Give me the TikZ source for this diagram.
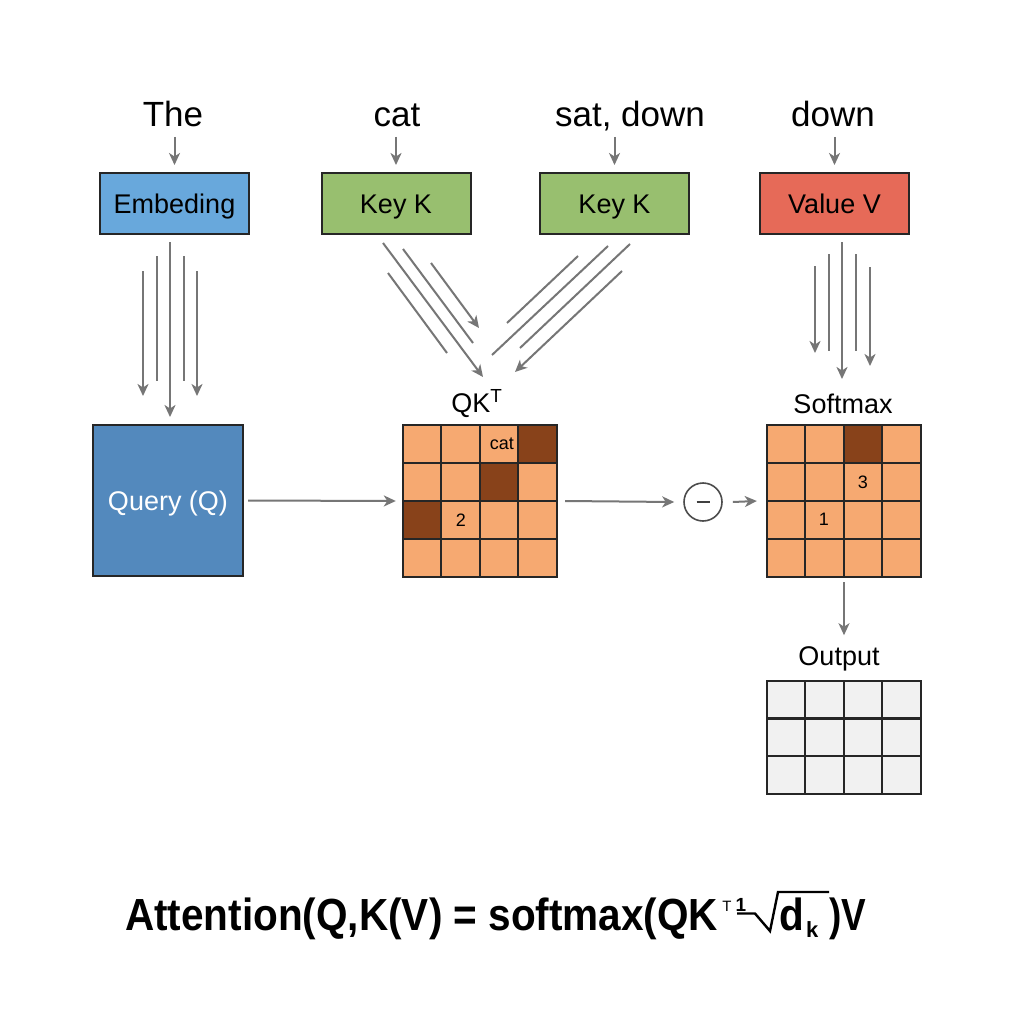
\documentclass[tikz,border=0pt]{standalone}
\usepackage{fontspec}
\setmainfont{Liberation Sans}
\usepackage{graphicx}
\usetikzlibrary{arrows.meta,calc}
\definecolor{embblue}{HTML}{68A8DC}
\definecolor{qblue}{HTML}{5389BD}
\definecolor{keygreen}{HTML}{98BF6F}
\definecolor{valred}{HTML}{E66A58}
\definecolor{cellor}{HTML}{F6A971}
\definecolor{celldk}{HTML}{88421A}
\definecolor{outgray}{HTML}{F1F1F1}
\definecolor{linegray}{HTML}{767676}
\definecolor{edgec}{HTML}{262626}
\begin{document}
\begin{tikzpicture}[x=1pt,y=-1pt,
  arr/.style={draw=linegray,line width=2pt,-{Stealth[length=12pt,width=11pt,inset=3.5pt]}},
  ln/.style={draw=linegray,line width=2pt},
  word/.style={font=\fontsize{35}{40}\selectfont,anchor=base,inner sep=0pt},
  lbl/.style={font=\fontsize{27}{30}\selectfont,anchor=base,inner sep=0pt},
  boxnode/.style={draw=edgec,line width=2pt,minimum width=149pt,minimum height=61pt,
     font=\fontsize{27}{30}\selectfont,text height=19.3pt,text depth=0pt,inner sep=0pt},
  matbox/.style={fill=cellor,minimum width=154pt,minimum height=152pt,inner sep=0pt},
  gridln/.style={draw=edgec,line width=2.2pt},
  cellt/.style={font=\fontsize{18}{20}\selectfont,inner sep=0pt},
  fbold/.style={anchor=base west,inner sep=0pt}
]
\useasboundingbox (0,0) rectangle (1024,1024);
\fill[white] (0,0) rectangle (1024,1024);

% top words
\node[word] (the) at (173,127) {The};
\node[word] (cat) at (397,127) {cat};
\node[word] (sat) at (630,127) {sat, down};
\node[word] (down) at (833,127) {down};

% boxes
\node[boxnode,fill=embblue] (emb) at (174.5,203.5) {Embeding};
\node[boxnode,fill=keygreen] (key1) at (396,203.5) {Key K};
\node[boxnode,fill=keygreen] (key2) at (614.5,203.5) {Key K};
\node[boxnode,fill=valred] (val) at (834.5,203.5) {Value V};

\foreach \w/\b in {the/emb,cat/key1,sat/key2,down/val}{
  \draw[arr] ($(\b.north |- \w.base)+(0,10)$) -- ($(\b.north)+(0,-7)$);
}

% embedding lines
\draw[arr] (143,271) -- (143,396);
\draw[ln]  (157,256) -- (157,381);
\draw[arr] (170,242) -- (170,417);
\draw[ln]  (184,256) -- (184,381);
\draw[arr] (197,271) -- (197,396);

% value lines
\draw[arr] (815,266) -- (815,353);
\draw[ln]  (829,254) -- (829,351);
\draw[arr] (842,242) -- (842,379);
\draw[ln]  (856,254) -- (856,351);
\draw[arr] (870,267) -- (870,366);

% key lines
\draw[arr] (383,243) -- (483,377);
\draw[ln]  (403,249) -- (473,343);
\draw[arr] (431,263) -- (479,328);
\draw[ln]  (388,273) -- (447,353);
\draw[ln]  (578,256) -- (507,323);
\draw[ln]  (608,246) -- (492,355);
\draw[ln]  (630,244) -- (520,348);
\draw[arr] (622,271) -- (515,372);

% query
\node[boxnode,fill=qblue,minimum width=150pt,minimum height=151pt,text=white] (query) at (168,500.5) {Query (Q)};

% QK matrix
\node[lbl] (qkt) at (477,412) {QK\textsuperscript{T}};
\node[matbox] (qk) at (480,501) {};
\foreach \r/\c in {0/3,1/2,2/0}{
  \fill[celldk] ($(qk.north west)+(\c*38.5,\r*38)$) rectangle ++(38.5,38);
}
\foreach \i in {1,2,3}{
  \draw[gridln] ($(qk.north west)+(\i*38.5,0)$) -- ++(0,152);
  \draw[gridln] ($(qk.north west)+(0,\i*38)$) -- ++(154,0);
}
\draw[gridln] (qk.north west) rectangle (qk.south east);
\node[cellt] (qcat) at ($(qk.north west)+(99,19)$) {cat};
\node[cellt] (q2) at ($(qk.north west)+(58,95)$) {2};

% softmax matrix
\node[lbl] (smt) at (843,413) {Softmax};
\node[matbox] (sm) at (844,501) {};
\fill[celldk] ($(sm.north west)+(2*38.5,0)$) rectangle ++(38.5,38);
\foreach \i in {1,2,3}{
  \draw[gridln] ($(sm.north west)+(\i*38.5,0)$) -- ++(0,152);
  \draw[gridln] ($(sm.north west)+(0,\i*38)$) -- ++(154,0);
}
\draw[gridln] (sm.north west) rectangle (sm.south east);
\node[cellt] (s3) at ($(sm.north west)+(96,57)$) {3};
\node[cellt] (s1) at ($(sm.north west)+(57,95)$) {1};

% minus circle
\node[circle,draw=black!70,line width=1.6pt,minimum size=38pt,inner sep=0pt] (minus) at (703,502) {};
\draw[line width=2.2pt,black!75] ($(minus.center)+(-6.5,0)$) -- ++(13,0);

% horizontal arrows
\draw[arr] ([xshift=4pt]query.east) -- ([xshift=-7pt]qk.west);
\draw[arr] ([xshift=8pt]qk.east) -- ([xshift=-9pt]minus.west);
\draw[arr] ([xshift=10pt]minus.east) -- ([xshift=-10pt]sm.west);

% output
\draw[arr] ([yshift=-5pt]sm.south) -- ++(0,53);
\node[lbl] (outt) at (839,665) {Output};
\node[fill=outgray,minimum width=154pt,minimum height=113pt,inner sep=0pt] (out) at (844,737.5) {};
\foreach \i in {1,2,3}{
  \draw[gridln] ($(out.north west)+(\i*38.5,0)$) -- ++(0,113);
}
\foreach \i in {1,2}{
  \draw[gridln] ($(out.north west)+(0,\i*37.67)$) -- ++(154,0);
}
\draw[gridln] (out.north west) rectangle (out.south east);

% formula
\node[fbold] (f1) at (125,930) {\resizebox{593pt}{\height}{\fontsize{45}{50}\selectfont\bfseries Attention(Q,K(V) = softmax(QK}};
\node[anchor=base,inner sep=0pt,font=\fontsize{15}{15}\selectfont] (fT) at (727,911) {T};
\node[anchor=base,inner sep=0pt,font=\fontsize{19}{19}\selectfont\bfseries] (fone) at (741,911) {1};
\draw[line width=2.4pt,line join=miter] (737,913.5) -- (755,913.5) -- (770,931) -- (778,892) -- (829,892);
\node[fbold] (fd) at (779,930) {\scalebox{0.9}[1]{\fontsize{45}{50}\selectfont\bfseries d}};
\node[fbold] (fk) at (806,937) {\fontsize{22}{22}\selectfont\bfseries k};
\node[fbold] (fv) at (829,930) {\scalebox{0.82}[1]{\fontsize{45}{50}\selectfont\bfseries )V}};
\end{tikzpicture}
\end{document}
